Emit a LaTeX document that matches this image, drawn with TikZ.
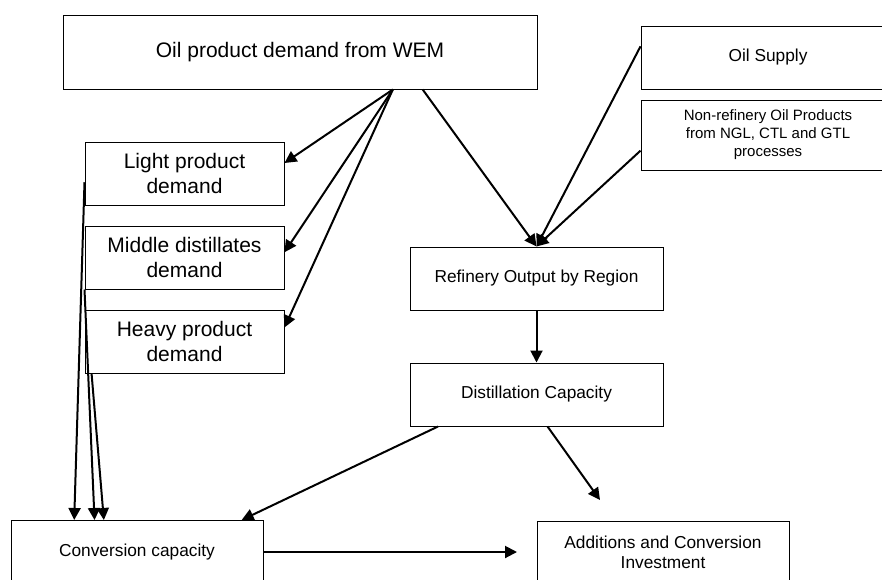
\documentclass[tikz,border=0pt]{standalone}
\usepackage{fontspec}
\setmainfont{Liberation Sans}
\usetikzlibrary{arrows.meta}

\tikzset{
  box/.style={draw, line width=1pt, rectangle, inner sep=0pt, align=center,
    minimum width=253pt, minimum height=63pt},
  bigtext/.style={font=\fontsize{21}{25}\selectfont},
  midtext/.style={font=\fontsize{17.3}{20}\selectfont},
  smalltext/.style={font=\fontsize{15}{18}\selectfont},
  flow/.style={line width=2pt, -{Triangle[length=12pt, width=12pt]}}
}

\begin{document}
\begin{tikzpicture}[x=1pt, y=-1pt]
  \useasboundingbox (0,0) rectangle (882,579);
  \clip (0,0) rectangle (882,579);

  % demand side
  \node[box, bigtext, minimum width=474pt, minimum height=74pt] (wem) at (300,52)
    {Oil product demand from WEM};
  \node[box, bigtext, minimum width=199pt] (light) at (184.5,173.5)
    {Light product\\demand};
  \node[box, bigtext, minimum width=199pt] (middle) at (184.5,257.5)
    {Middle distillates\\demand};
  \node[box, bigtext, minimum width=199pt] (heavy) at (184.5,341.5)
    {Heavy product\\demand};

  % supply side
  \node[box, midtext, minimum width=254pt] (supply) at (768,57.5) {Oil Supply};
  \node[box, smalltext, minimum width=254pt, minimum height=70pt] (nonref) at (768,135)
    {Non-refinery Oil Products\\from NGL, CTL and GTL\\processes};
  \node[box, midtext] (refout) at (536.5,278.5) {Refinery Output by Region};
  \node[box, midtext] (distil) at (536.5,394.5) {Distillation Capacity};

  % capacity
  \node[box, midtext, minimum width=252pt] (conv) at (137,552) {Conversion capacity};
  \node[box, midtext, minimum width=252pt] (addit) at (663,552.5)
    {Additions and Conversion\\Investment};

  \coordinate (distend) at (600,500);
  \coordinate (convend) at (517,552);

  \draw[flow] (wem.-22.3) -- (light.6.6);
  \draw[flow] (wem.-22.3) -- (middle.3.2);
  \draw[flow] (wem.-22.3) -- (heavy.8.3);
  \draw[flow] (wem.-17.1) -- (refout.north);
  \draw[flow] (supply.175.3) -- (refout.north);
  \draw[flow] (nonref.187.6) -- (refout.north);
  \draw[flow] (refout.south) -- (distil.north);
  \draw[flow] (distil.-71.6) -- (distend);
  \draw[flow] (distil.198) -- (conv.17.9);
  \draw[flow] (conv.east) -- (convend);

  \draw[flow] (light.185.4) -- (conv.153.4);
  \draw[flow] (middle.south west) -- (conv.143.6);
  \draw[flow] (heavy.199) -- (conv.136);
\end{tikzpicture}
\end{document}
